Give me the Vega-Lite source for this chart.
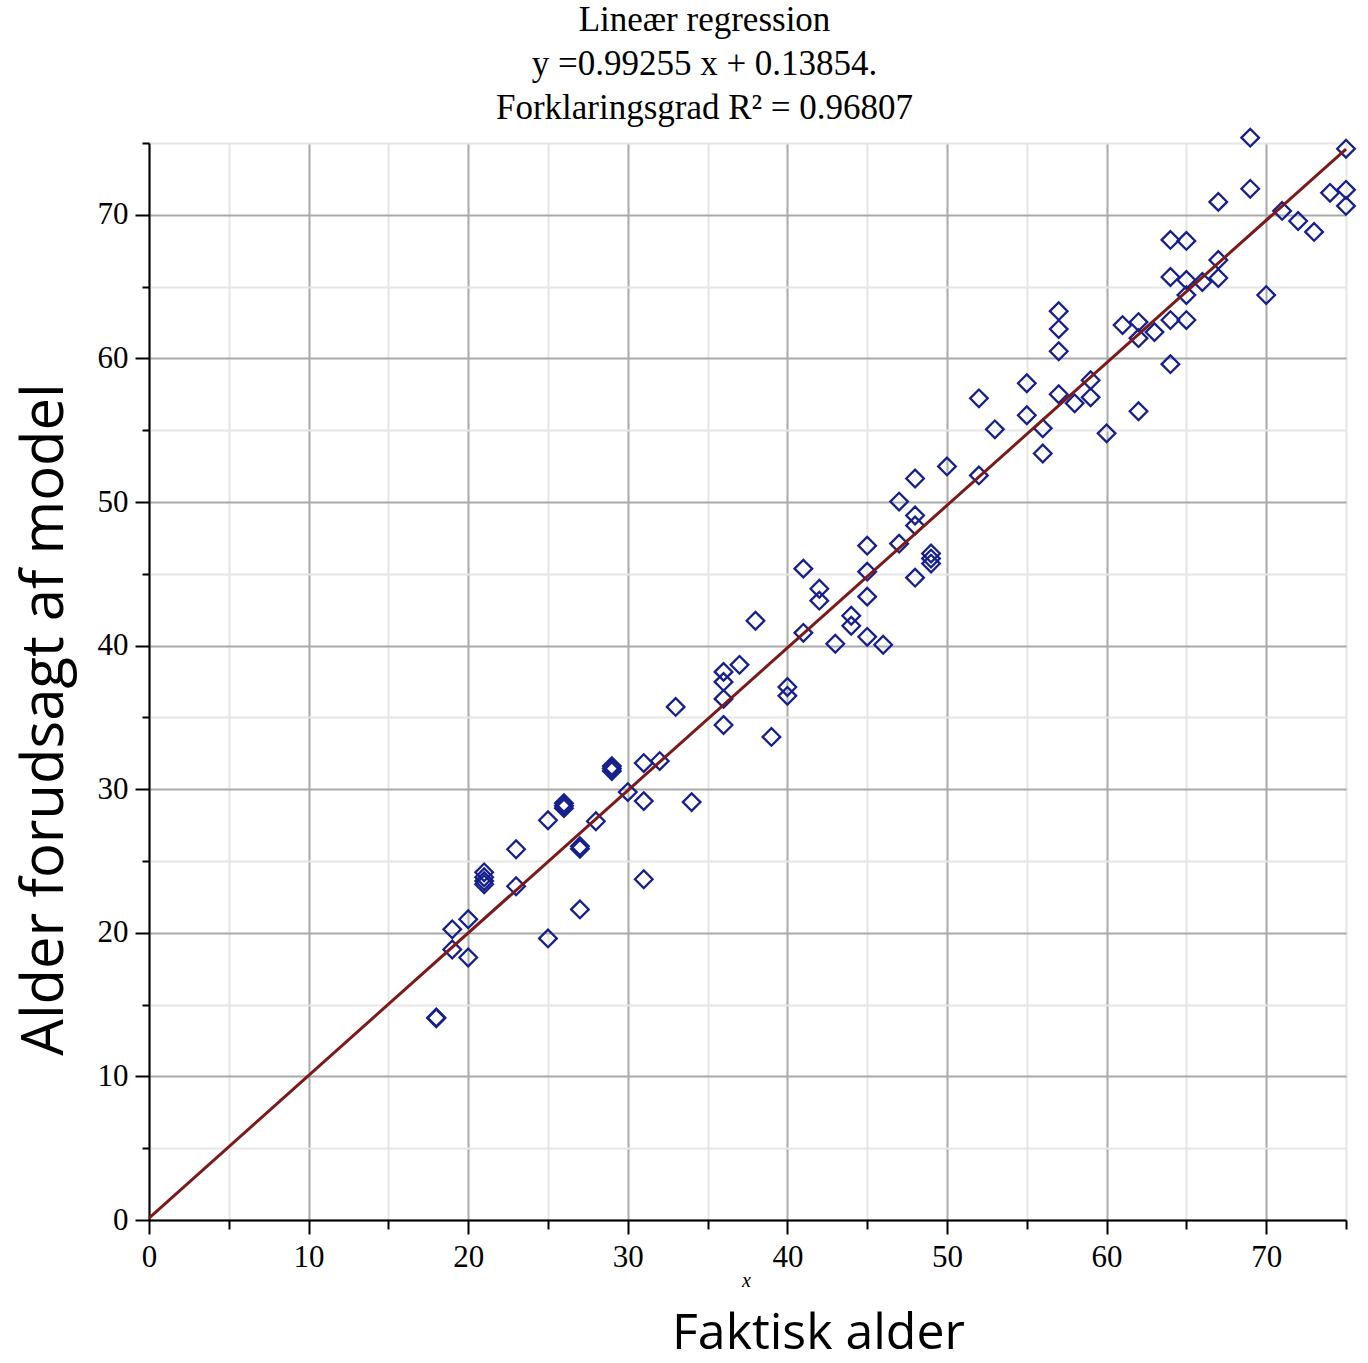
{
  "$schema": "https://vega.github.io/schema/vega-lite/v6.json",
  "width": 1197,
  "height": 1077,
  "autosize": "none",
  "padding": {"left": 149, "top": 143, "right": 22, "bottom": 143},
  "background": "white",
  "config": {"view": {"stroke": null}},
  "title": {
    "text": ["Lineær regression", "y =0.99255 x + 0.13854.", "Forklaringsgrad R² = 0.96807"],
    "font": "Liberation Serif",
    "fontSize": 35,
    "fontWeight": "normal",
    "color": "black",
    "anchor": "middle",
    "dx": -43,
    "lineHeight": 44,
    "offset": -2
  },
  "layer": [
    {
      "data": {"values": [
        {"x": 18, "y": 14.10}, {"x": 18, "y": 14.05},
        {"x": 19, "y": 20.24}, {"x": 19, "y": 18.84},
        {"x": 20, "y": 20.94}, {"x": 20, "y": 18.28},
        {"x": 21, "y": 24.21}, {"x": 21, "y": 23.87}, {"x": 21, "y": 23.38}, {"x": 21, "y": 23.6},
        {"x": 23, "y": 25.82}, {"x": 23, "y": 23.24},
        {"x": 25, "y": 27.84}, {"x": 25, "y": 19.61},
        {"x": 26, "y": 29.03}, {"x": 26, "y": 28.68}, {"x": 26, "y": 28.85},
        {"x": 27, "y": 26.03}, {"x": 27, "y": 25.85}, {"x": 27, "y": 21.63},
        {"x": 28, "y": 27.77},
        {"x": 29, "y": 31.61}, {"x": 29, "y": 31.26}, {"x": 29, "y": 31.45},
        {"x": 30, "y": 29.80},
        {"x": 31, "y": 31.82}, {"x": 31, "y": 29.17}, {"x": 31, "y": 23.73},
        {"x": 32, "y": 31.96},
        {"x": 33, "y": 35.73},
        {"x": 34, "y": 29.10},
        {"x": 36, "y": 38.17}, {"x": 36, "y": 37.47}, {"x": 36, "y": 36.29}, {"x": 36, "y": 34.47},
        {"x": 37, "y": 38.66},
        {"x": 38, "y": 41.73},
        {"x": 39, "y": 33.64},
        {"x": 40, "y": 37.12}, {"x": 40, "y": 36.50},
        {"x": 41, "y": 45.36}, {"x": 41, "y": 40.89},
        {"x": 42, "y": 43.96}, {"x": 42, "y": 43.13},
        {"x": 43, "y": 40.13},
        {"x": 44, "y": 42.08}, {"x": 44, "y": 41.38},
        {"x": 45, "y": 46.96}, {"x": 45, "y": 45.15}, {"x": 45, "y": 43.41}, {"x": 45, "y": 40.61},
        {"x": 46, "y": 40.06},
        {"x": 47, "y": 50.03}, {"x": 47, "y": 47.10},
        {"x": 48, "y": 51.64}, {"x": 48, "y": 49.06}, {"x": 48, "y": 48.36}, {"x": 48, "y": 44.73},
        {"x": 49, "y": 46.41}, {"x": 49, "y": 46.06}, {"x": 49, "y": 45.71},
        {"x": 50, "y": 52.48},
        {"x": 52, "y": 57.22}, {"x": 52, "y": 51.85},
        {"x": 53, "y": 55.06},
        {"x": 55, "y": 58.27}, {"x": 55, "y": 56.04},
        {"x": 56, "y": 55.13}, {"x": 56, "y": 53.38},
        {"x": 57, "y": 63.29}, {"x": 57, "y": 62.04}, {"x": 57, "y": 60.50}, {"x": 57, "y": 57.50},
        {"x": 58, "y": 56.87},
        {"x": 59, "y": 58.48}, {"x": 59, "y": 57.29},
        {"x": 60, "y": 54.78},
        {"x": 61, "y": 62.32},
        {"x": 62, "y": 62.53}, {"x": 62, "y": 61.41}, {"x": 62, "y": 56.32},
        {"x": 63, "y": 61.83},
        {"x": 64, "y": 68.25}, {"x": 64, "y": 65.67}, {"x": 64, "y": 62.67}, {"x": 64, "y": 59.60},
        {"x": 65, "y": 68.18}, {"x": 65, "y": 65.46}, {"x": 65, "y": 64.41}, {"x": 65, "y": 62.67},
        {"x": 66, "y": 65.32},
        {"x": 67, "y": 70.90}, {"x": 67, "y": 66.85}, {"x": 67, "y": 65.60},
        {"x": 69, "y": 75.37}, {"x": 69, "y": 71.81},
        {"x": 70, "y": 64.41},
        {"x": 71, "y": 70.27},
        {"x": 72, "y": 69.57},
        {"x": 73, "y": 68.81},
        {"x": 74, "y": 71.53},
        {"x": 75, "y": 74.60}, {"x": 75, "y": 71.74}, {"x": 75, "y": 70.62}
      ]},
      "mark": {"type": "point", "shape": "diamond", "filled": false, "stroke": "#16208c", "strokeWidth": 2.3, "size": 310, "opacity": 1, "clip": false},
      "encoding": {
        "x": {
          "field": "x", "type": "quantitative",
          "scale": {"domain": [0, 75], "nice": false, "zero": false},
          "axis": {
            "values": [0, 5, 10, 15, 20, 25, 30, 35, 40, 45, 50, 55, 60, 65, 70, 75],
            "labelExpr": "datum.value % 10 === 0 ? datum.label : ''",
            "labelFont": "Liberation Serif", "labelFontSize": 31, "labelColor": "black",
            "labelPadding": 8, "labelFlush": false, "labelOverlap": false,
            "domainColor": "black", "domainWidth": 2,
            "tickColor": "black", "tickWidth": 2,
            "tickSize": {"condition": {"test": "datum.value % 10 === 0", "value": 14}, "value": 9},
            "grid": true,
            "gridColor": {"condition": {"test": "datum.value % 10 === 0", "value": "#a9a9a9"}, "value": "#e6e6e6"},
            "gridWidth": 2,
            "title": "x",
            "titleFont": "Liberation Serif", "titleFontStyle": "italic", "titleFontWeight": "normal",
            "titleFontSize": 20, "titleColor": "black",
            "titleX": 597, "titleY": 60, "titleAlign": "center", "titleBaseline": "middle"
          }
        },
        "y": {
          "field": "y", "type": "quantitative",
          "scale": {"domain": [0, 75], "nice": false, "zero": false},
          "axis": {
            "values": [0, 5, 10, 15, 20, 25, 30, 35, 40, 45, 50, 55, 60, 65, 70, 75],
            "labelExpr": "datum.value % 10 === 0 ? datum.label : ''",
            "labelFont": "Liberation Serif", "labelFontSize": 31, "labelColor": "black",
            "labelPadding": 7, "labelFlush": false, "labelOverlap": false,
            "domainColor": "black", "domainWidth": 2,
            "tickColor": "black", "tickWidth": 2,
            "tickSize": {"condition": {"test": "datum.value % 10 === 0", "value": 14}, "value": 7},
            "grid": true,
            "gridColor": {"condition": {"test": "datum.value % 10 === 0", "value": "#a9a9a9"}, "value": "#e6e6e6"},
            "gridWidth": 2,
            "title": "Alder forudsagt af model",
            "titleFont": "Open Sans", "titleFontWeight": "normal",
            "titleFontSize": 58, "titleColor": "black", "titleAngle": -90,
            "titleX": -104, "titleY": 576, "titleAlign": "center", "titleBaseline": "middle"
          }
        }
      }
    },
    {
      "data": {"values": [
        {"x": 0, "y": 0.13854},
        {"x": 75, "y": 74.58}
      ]},
      "mark": {"type": "line", "color": "#7b1a1a", "strokeWidth": 3, "clip": false},
      "encoding": {
        "x": {
          "field": "x", "type": "quantitative",
          "scale": {"domain": [0, 75], "nice": false, "zero": false},
          "axis": {
            "orient": "bottom",
            "domain": false, "ticks": false, "labels": false, "grid": false,
            "title": "Faktisk alder",
            "titleFont": "Open Sans", "titleFontWeight": "normal",
            "titleFontSize": 50, "titleColor": "black",
            "titleX": 669, "titleY": 138, "titleAlign": "center", "titleBaseline": "bottom"
          }
        },
        "y": {"field": "y", "type": "quantitative"}
      }
    }
  ],
  "resolve": {"axis": {"x": "independent"}}
}
